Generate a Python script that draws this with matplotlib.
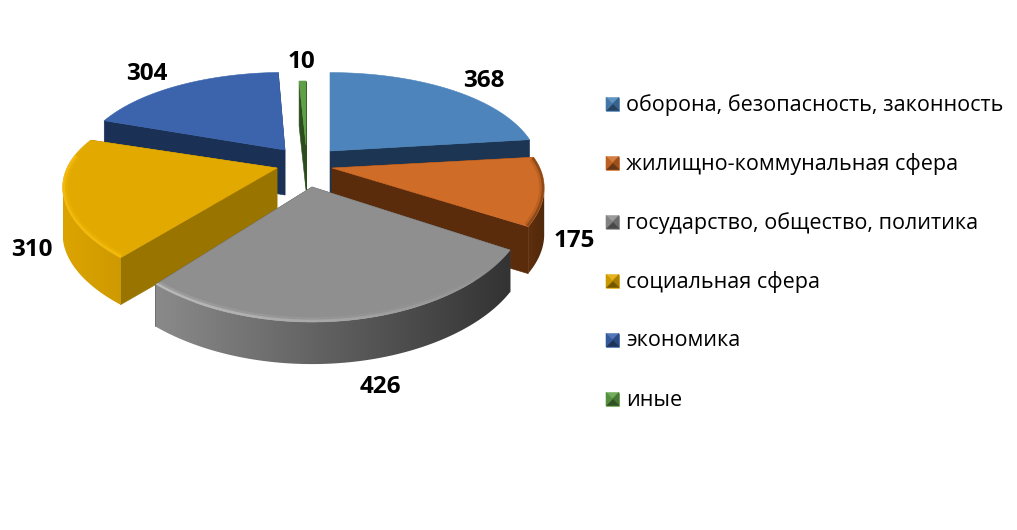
import numpy as np
import matplotlib
matplotlib.use("Agg")
import matplotlib.pyplot as plt
from matplotlib.patches import Polygon
from matplotlib.collections import LineCollection
from matplotlib.colors import to_rgb

# data
categories = ["оборона, безопасность, законность", "жилищно-коммунальная сфера",
              "государство, общество, политика", "социальная сфера", "экономика", "иные"]
values = [368, 175, 426, 310, 304, 10]

# layout / style
CENTER = (305, 165)
EXPLODE = [(25, -14), (27, 3), (7, 22), (-28, 3), (-20, -15), (1, -20)]
SCALE = [(0.98, 0.98), (0.99, 0.93), (1.0, 1.0), (1.0, 0.92), (0.97, 0.97), (1.0, 0.8)]
DEPTHS = [46, 47, 42, 47, 45, 45]
RX, RY, PX, PY = 210, 100.5, 0.20, 0.256
TOP = ["#4c84bb", "#cf6c27", "#8f8f8f", "#e2a900", "#3b64ad", "#5f9f45"]
CUT = ["#1c3553", "#5a2c0c", "#3f3f3f", "#997500", "#1a3055", "#2c4d1c"]
SIDE_A = ["#2a5078", "#5f300e", "#8a8a8a", "#dca400", "#1f3b66", "#2c4d1c"]
SIDE_B = ["#2a5078", "#4f280b", "#333333", "#cf9a00", "#1f3b66", "#2c4d1c"]
RIM = ["#4c84bb", "#6a3512", "#d0d0d0", "#ffc614", "#3b64ad", "#5f9f45"]
RIM_ON = [0, 1, 1, 1, 0, 0]
LABEL_POS = [(484, 81), (574, 241), (380, 387), (32, 250), (147, 74), (301, 62)]
DRAW_ORDER = [4, 0, 5, 1, 3, 2]
LEG_X, LEG_Y0, LEG_DY = 606, 104, 59

plt.rcParams["font.family"] = ["Open Sans", "DejaVu Sans"]
fig = plt.figure(figsize=(10.17, 5.30), dpi=100)
ax = fig.add_axes([0, 0, 1, 1])
ax.axis("off")

total = sum(values)
edges = np.concatenate([[0], np.cumsum(values)]) / total * 2 * np.pi


def project(theta, tip, scale):
    x, y = np.sin(theta), np.cos(theta)
    return (tip[0] + scale[0] * RX * x / (1 + PX * y),
            tip[1] - scale[1] * RY * y / (1 + PY * y))


def poly(pts, color, z):
    p = Polygon(pts, closed=True, facecolor=color, edgecolor=color, linewidth=0.4, zorder=z)
    ax.add_patch(p)
    return p


def mix(a, b, t):
    a, b = np.array(to_rgb(a)), np.array(to_rgb(b))
    return tuple(a + (b - a) * t)


for order, i in enumerate(DRAW_ORDER):
    tip = (CENTER[0] + EXPLODE[i][0], CENTER[1] + EXPLODE[i][1])
    depth = DEPTHS[i]
    a0, a1 = edges[i], edges[i + 1]
    th = np.linspace(a0, a1, max(int((a1 - a0) * 60), 8))
    xs, ys = project(th, tip, SCALE[i])
    z = order * 10 + 1
    corners = sorted([(xs[0], ys[0]), (xs[-1], ys[-1])], key=lambda c: c[1])
    for cx, cy in corners:
        poly([tip, (cx, cy), (cx, cy + depth), (tip[0], tip[1] + depth)], CUT[i], z)
    # outer wall: only the part of the arc between its horizontal extremes
    vis = np.cos(th) < -PX
    if vis.sum() > 1:
        wx, wy = xs[vis], ys[vis]
        pts = list(zip(wx, wy)) + list(zip(wx[::-1], wy[::-1] + depth))
        x0, x1 = wx.min(), wx.max()
        grad = np.array([[mix(SIDE_A[i], SIDE_B[i], t) for t in np.linspace(0, 1, 128)]])
        im = ax.imshow(grad, extent=[x0, x1, wy.max() + depth + 2, wy.min() - 2], aspect="auto",
                       interpolation="bilinear", zorder=z + 1)
        im.set_clip_path(Polygon(pts, closed=True, transform=ax.transData))
    top_face = poly([tip] + list(zip(xs, ys)), TOP[i], z + 2)
    # soft bevel just inside the rim, fading to the right on the grey slice
    rim = np.cos(th) < 0.15
    if RIM_ON[i] and rim.sum() > 1:
        wx, wy = xs[rim], ys[rim]
        segs = [[(wx[k], wy[k]), (wx[k + 1], wy[k + 1])] for k in range(len(wx) - 1)]
        if i == 2:
            fade = np.clip(1 - (wx[:-1] - wx.min()) / (wx.max() - wx.min()), 0.05, 1)
        else:
            fade = np.full(len(segs), 0.9)
        rgb = to_rgb(RIM[i])
        for lw, alpha in ((7, 0.2), (3.5, 0.6)):
            cols = [(*rgb, float(f) * alpha) for f in fade]
            lc = LineCollection(segs, colors=cols, linewidths=lw, capstyle="butt", zorder=z + 3)
            ax.add_collection(lc)
            lc.set_clip_path(Polygon(list(top_face.get_xy()), closed=True, transform=ax.transData))

# value labels
for v, (lx, ly) in zip(values, LABEL_POS):
    ax.text(lx, ly, str(v), ha="center", va="center", fontsize=17.5, fontweight="bold",
            color="black", zorder=100)

# legend with bevelled swatches
for i, name in enumerate(categories):
    yc = LEG_Y0 + LEG_DY * i
    s = 6.5
    cx = LEG_X + s
    corners = [(cx - s, yc - s), (cx + s, yc - s), (cx + s, yc + s), (cx - s, yc + s)]
    shades = [mix(TOP[i], "#ffffff", 0.12), mix(TOP[i], "#000000", 0.25),
              mix(TOP[i], "#000000", 0.5), mix(TOP[i], "#000000", 0.1)]
    poly(corners, TOP[i], 90)
    for k in range(4):
        poly([corners[k], corners[(k + 1) % 4], (cx, yc)], shades[k], 91)
    ax.text(626, yc + 1, name, ha="left", va="center", fontsize=15.5, color="black", zorder=100)

ax.set_xlim(0, 1017)
ax.set_ylim(530, 0)
fig.savefig("out.png", dpi=100, facecolor="white")
